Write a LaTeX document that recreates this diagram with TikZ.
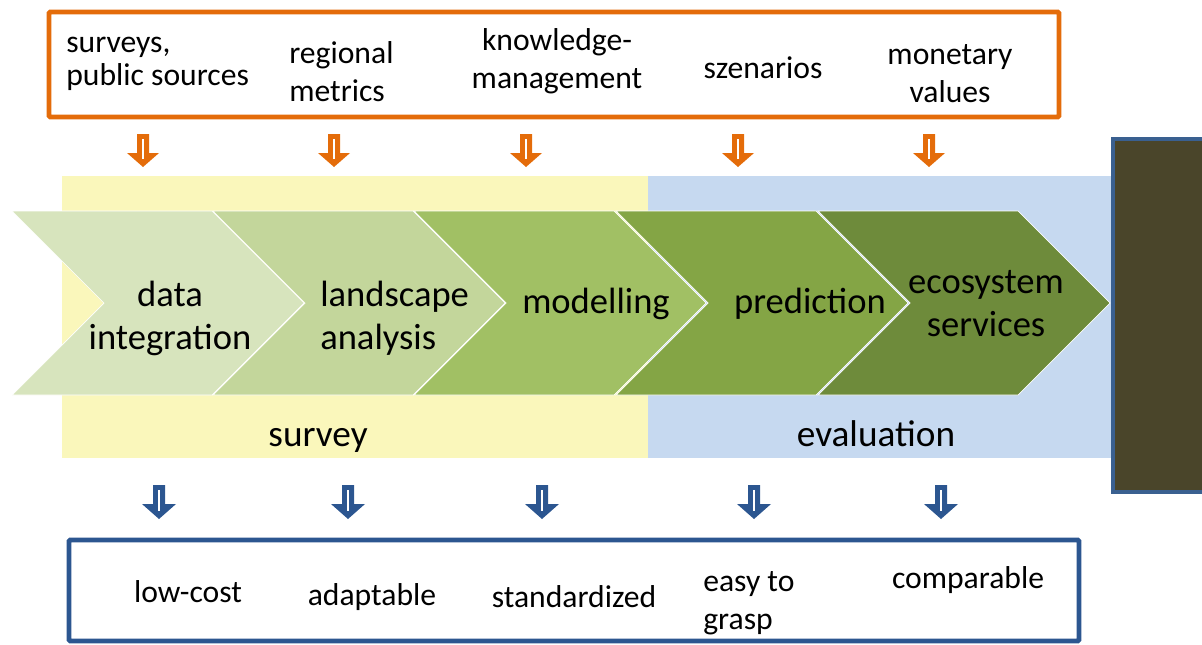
\documentclass[tikz,border=0pt]{standalone}
\usepackage{fontspec}
\setmainfont{Carlito}
\usepackage{tikz}
\usepackage{xcolor}

\definecolor{inputorange}{HTML}{E46C0A}
\definecolor{outputblue}{HTML}{2C5690}
\definecolor{surveyband}{HTML}{FAF7BB}
\definecolor{evalband}{HTML}{C6D9F0}
\definecolor{stepa}{HTML}{D7E4BD}
\definecolor{stepb}{HTML}{C3D69B}
\definecolor{stepc}{HTML}{A1C064}
\definecolor{stepd}{HTML}{84A545}
\definecolor{stepe}{HTML}{6E8B3B}
\definecolor{sidepanel}{HTML}{4A452A}
\definecolor{sideframe}{HTML}{3A6090}

\tikzset{
    chevron/.style = {fill=#1, draw=white, line width=0.5pt},
    step-label/.style = {align=center, inner sep=0pt, font=\fontsize{26}{30.6}\selectfont},
    band-label/.style = {inner sep=0pt, anchor=base, font=\fontsize{26.5}{30}\selectfont},
    note-label/.style = {inner sep=0pt, font=\fontsize{22.5}{27}\selectfont},
    hint-arrow/.style = {fill=#1},
    hint-core/.style = {draw=white, line width=1.4pt},
    frame-box/.style = {draw=#1, line width=3.5pt, rounded corners=1pt},
}

\begin{document}
\begin{tikzpicture}[x=0.025cm, y=-0.025cm]
\useasboundingbox (0,0) rectangle (1202,644);

% coloured bands behind the process chain
\fill[surveyband] (62,176) rectangle (648,458);
\fill[evalband] (648,176) rectangle (1112,458);

% process chain
\foreach \xs/\col in {12/stepa, 213/stepb, 414/stepc, 616/stepd, 818/stepe}
    \path[chevron=\col] (\xs,211) -- ++(200,0) -- ++(92,92) -- ++(-92,92)
        -- ++(-200,0) -- ++(92,-92) -- cycle;

\node[step-label] (integration) at (170,318.5) {data\\integration};
\node[step-label, align=left, anchor=west] (landscape) at (320,318.5) {landscape\\analysis};
\node[step-label] (modelling) at (596,304) {modelling};
\node[step-label] (prediction) at (810,304) {prediction};
\node[step-label] (services) at (986,303.5) {ecosystem\\services};

\node[band-label] (survey) at (318,446) {survey};
\node[band-label] (evaluation) at (876,446) {evaluation};

% side panel
\draw[fill=sidepanel, draw=sideframe, line width=3.5pt] (1113,139) rectangle (1216,492);

% inputs
\draw[frame-box=inputorange] (49,12) rectangle (1059,117);
\node[note-label, align=left, anchor=west, font=\fontsize{22.5}{23.5}\selectfont]
    (sources) at (66,64) {surveys,\\public sources};
\node[note-label, align=left, anchor=west] (metrics) at (289,72) {regional\\metrics};
\node[note-label, align=center] (knowledge) at (557,61.5) {knowledge-\\management};
\node[note-label] (szenarios) at (763,68) {szenarios};
\node[note-label, align=center] (monetary) at (950,73.5) {monetary\\values};

\foreach \cx in {143, 334, 526, 738, 929} {
    \path[hint-arrow=inputorange] (\cx-6,134) -- (\cx+6,134) -- (\cx+6,153)
        -- (\cx+16,153) -- (\cx,167) -- (\cx-16,153) -- (\cx-6,153) -- cycle;
    \draw[hint-core] (\cx,139) -- (\cx,159);
}

% outputs
\foreach \cx in {159, 348, 542, 754, 941} {
    \path[hint-arrow=outputblue] (\cx-6,485) -- (\cx+6,485) -- (\cx+6,504)
        -- (\cx+17,504) -- (\cx,519) -- (\cx-17,504) -- (\cx-6,504) -- cycle;
    \draw[hint-core] (\cx,490) -- (\cx,511);
}

\draw[frame-box=outputblue] (69,540) rectangle (1079,641);
\node[note-label] (lowcost) at (188,592) {low-cost};
\node[note-label] (adaptable) at (372,597) {adaptable};
\node[note-label] (standardized) at (574,597) {standardized};
\node[note-label, align=left, anchor=west] (grasp) at (703,603) {easy to\\grasp};
\node[note-label] (comparable) at (968,580) {comparable};
\end{tikzpicture}
\end{document}
